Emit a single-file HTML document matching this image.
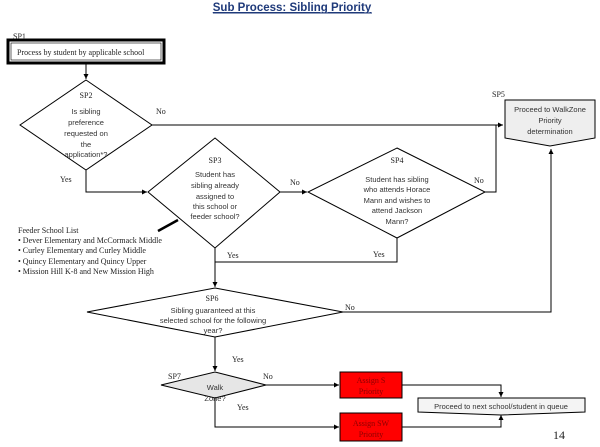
<!DOCTYPE html>
<html><head><meta charset="utf-8"><style>
html,body{margin:0;padding:0;background:#fff;}
svg{display:block;}
.s{font-family:"Liberation Serif",serif;font-size:8px;fill:#222;}
.a{font-family:"Liberation Sans",sans-serif;font-size:7.5px;fill:#333;}
</style></head><body>
<svg width="600" height="447" viewBox="0 0 600 447" xmlns="http://www.w3.org/2000/svg">
<defs><marker id="ar" markerWidth="6" markerHeight="6" refX="5" refY="3" orient="auto" markerUnits="userSpaceOnUse"><path d="M0,0.5 L5,3 L0,5.5 z" fill="#000"/></marker></defs>
<text x="292" y="11" text-anchor="middle" font-family="Liberation Sans,sans-serif" font-weight="bold" font-size="11.5" fill="#1f3a7a" text-decoration="underline">Sub Process: Sibling Priority</text>
<line x1="213" y1="13" x2="372" y2="13" stroke="#1f3a7a" stroke-width="1"/>
<g fill="none" stroke="#000" stroke-width="1">
<rect x="8" y="40" width="156" height="23" stroke-width="3"/>
<rect x="11" y="43" width="150" height="17" stroke-width="0.6"/>
<line x1="86" y1="63" x2="86" y2="79" marker-end="url(#ar)"/>
<polygon points="86,80 152,125 86,170 20,125" fill="#fff"/>
<line x1="152" y1="125" x2="503" y2="125" marker-end="url(#ar)"/>
<polyline points="86,170 86,192 147,192" marker-end="url(#ar)"/>
<polygon points="215,138 280,192 215,248 148,192" fill="#fff"/>
<line x1="280" y1="192" x2="307" y2="192" marker-end="url(#ar)"/>
<polygon points="397,148 485,192 397,238 308,192" fill="#fff"/>
<polyline points="485,192 496,192 496,125"/>
<polyline points="397,238 397,262 215,262"/>
<line x1="215" y1="248" x2="215" y2="287" marker-end="url(#ar)"/>
<line x1="158" y1="231" x2="178" y2="220" stroke-width="2.5"/>
<polygon points="215,288 343,312 215,337 87,312" fill="#fff"/>
<polyline points="343,312 551,312 551,149" marker-end="url(#ar)"/>
<polygon points="505,100 595,100 595,138 550,146 505,138" fill="#eee"/>
<line x1="215" y1="337" x2="215" y2="371" marker-end="url(#ar)"/>
<polygon points="215,372 266,385 215,398 161,385" fill="#e6e6e6"/>
<line x1="266" y1="385" x2="339" y2="385" marker-end="url(#ar)"/>
<polyline points="215,398 215,427 339,427" marker-end="url(#ar)"/>
<rect x="340" y="372" width="62" height="26" fill="#f00"/>
<rect x="340" y="413" width="62" height="28" fill="#f00"/>
<polyline points="402,385 501,385 501,397" marker-end="url(#ar)"/>
<polyline points="402,427 501,427 501,415" marker-end="url(#ar)"/>
<polygon points="418,398 585,398 585,412 501,415 418,412" fill="#f4f4f4"/>
</g>
<text class="s" x="13" y="39">SP1</text>
<text class="s" x="17" y="55">Process by student by applicable school</text>
<text class="s" x="86" y="98" text-anchor="middle">SP2</text>
<g class="a" text-anchor="middle"><text x="86" y="114">Is sibling</text><text x="86" y="125">preference</text><text x="86" y="136">requested on</text><text x="86" y="147">the</text><text x="86" y="157">application*?</text></g>
<text class="s" x="156" y="114">No</text>
<text class="s" x="60" y="182">Yes</text>
<text class="s" x="215" y="163" text-anchor="middle">SP3</text>
<g class="a" text-anchor="middle"><text x="215" y="177">Student has</text><text x="215" y="188">sibling already</text><text x="215" y="199">assigned to</text><text x="215" y="209">this school or</text><text x="215" y="219">feeder school?</text></g>
<text class="s" x="290" y="185">No</text>
<text class="s" x="397" y="163" text-anchor="middle">SP4</text>
<g class="a" text-anchor="middle"><text x="397" y="182">Student has sibling</text><text x="397" y="192">who attends Horace</text><text x="397" y="203">Mann and wishes to</text><text x="397" y="213">attend Jackson</text><text x="397" y="224">Mann?</text></g>
<text class="s" x="474" y="183">No</text>
<text class="s" x="373" y="257">Yes</text>
<text class="s" x="227" y="258">Yes</text>
<text class="s" x="492" y="97">SP5</text>
<g class="a" text-anchor="middle"><text x="550" y="112">Proceed to WalkZone</text><text x="550" y="123">Priority</text><text x="550" y="134">determination</text></g>
<g class="s"><text x="18" y="233">Feeder School List</text><text x="18" y="243">•  Dever Elementary and McCormack Middle</text><text x="18" y="253">•  Curley Elementary and Curley Middle</text><text x="18" y="264">•  Quincy Elementary and Quincy Upper</text><text x="18" y="274">•  Mission Hill K-8 and New Mission High</text></g>
<text class="s" x="212" y="301" text-anchor="middle">SP6</text>
<g class="a" text-anchor="middle"><text x="213" y="313">Sibling guaranteed at this</text><text x="213" y="323">selected school for the following</text><text x="213" y="333">year?</text></g>
<text class="s" x="345" y="310">No</text>
<text class="s" x="232" y="362">Yes</text>
<text class="s" x="168" y="379">SP7</text>
<text class="a" x="215" y="390" text-anchor="middle">Walk</text>
<text class="a" x="215" y="401" text-anchor="middle">Zone?</text>
<text class="s" x="263" y="379">No</text>
<text class="s" x="237" y="410">Yes</text>
<g class="s" text-anchor="middle" style="fill:#8b0000"><text x="371" y="383">Assign  S</text><text x="371" y="394">Priority</text><text x="371" y="426">Assign SW</text><text x="371" y="437">Priority</text></g>
<text class="a" x="501" y="409" text-anchor="middle">Proceed to next school/student in queue</text>
<text x="553" y="439" font-family="Liberation Serif,serif" font-size="12" fill="#222">14</text>
</svg>
</body></html>
